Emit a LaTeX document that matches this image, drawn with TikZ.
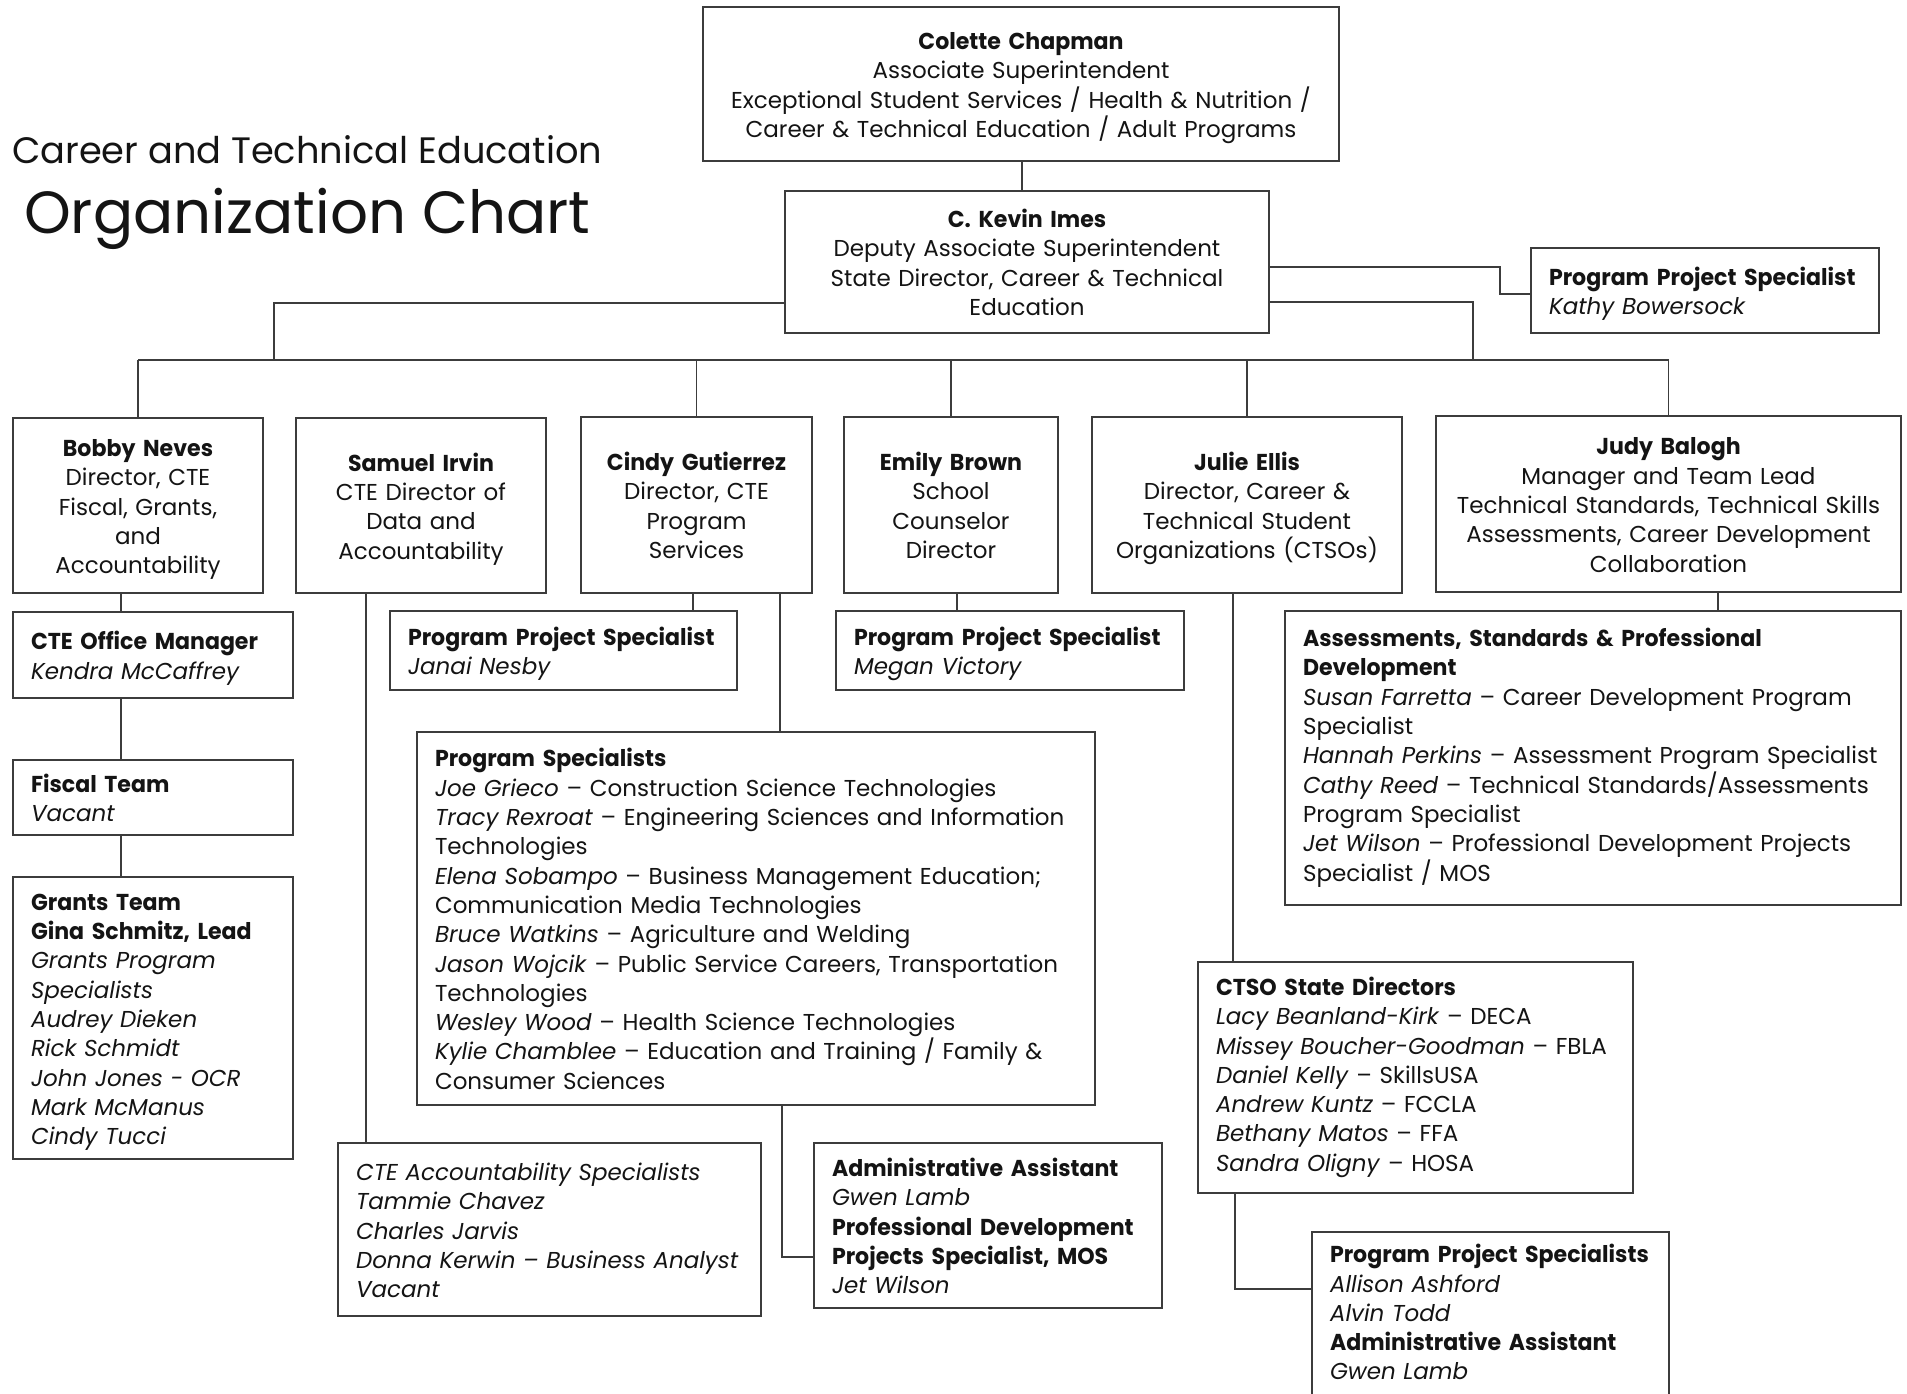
\documentclass[tikz,border=0pt]{standalone}
\usepackage{fontspec}
\setmainfont{Poppins}[BoldFeatures={FakeStretch=0.96}]
\definecolor{linec}{HTML}{3C3C3C}
\definecolor{txt}{HTML}{141414}
\newcommand\bodyfont{\fontsize{23}{29.3}\selectfont\lineskiplimit=-100pt\lineskip=0pt}
\newcommand\Ln[1]{\mbox{\strut #1}}
\newcommand\Lf[1]{\mbox{\rule{0pt}{27.9pt}\strut #1}}
\tikzset{
  box/.style={draw=linec, line width=1.8pt, text=txt, font=\bodyfont, inner ysep=0pt, rectangle},
  lbox/.style={box, inner xsep=18pt, align=left},
  cbox/.style={box, inner xsep=4pt, align=center},
  conn/.style={draw=linec, line width=1.5pt},
  ttl/.style={text=txt, inner sep=0pt, anchor=base west}
}
\begin{document}
\begin{tikzpicture}[x=1pt,y=-1pt]
\useasboundingbox (0,0) rectangle (1907,1393);
\fill[white] (0,0) rectangle (1907,1393);
\clip (0,0) rectangle (1907,1393);

% titles
\node[ttl] (t1) at (12,163) {\resizebox{590pt}{!}{\fontsize{40}{48}\selectfont Career and Technical Education}};
\node[ttl] (t2) at (24,233) {\resizebox{566pt}{!}{\fontsize{60}{72}\selectfont Organization Chart}};

% top
\node[cbox, minimum width=636pt, minimum height=154pt, text width=628pt] (colette) at (1021,84)
 {\Lf{\textbf{Colette Chapman}}\\\Ln{Associate Superintendent}\\\Ln{Exceptional Student Services / Health \& Nutrition /}\\\Ln{Career \& Technical Education / Adult Programs}};
\node[cbox, minimum width=484pt, minimum height=142pt, text width=476pt] (kevin) at (1027,262)
 {\Lf{\textbf{C. Kevin Imes}}\\\Ln{Deputy Associate Superintendent}\\\Ln{State Director, Career \& Technical}\\\Ln{Education}};
\node[lbox, minimum width=348pt, minimum height=85pt, text width=312pt] (kathy) at (1705,290.5)
 {\Lf{\textbf{Program Project Specialist}}\\\Ln{\textit{Kathy Bowersock}}};

% directors
\node[cbox, minimum width=250pt, minimum height=175pt, text width=242pt] (bobby) at (138,505.5)
 {\Lf{\textbf{Bobby Neves}}\\\Ln{Director, CTE}\\\Ln{Fiscal, Grants,}\\\Ln{and}\\\Ln{Accountability}};
\node[cbox, minimum width=250pt, minimum height=175pt, text width=242pt] (samuel) at (421,505.5)
 {\Lf{\textbf{Samuel Irvin}}\\\Ln{CTE Director of}\\\Ln{Data and}\\\Ln{Accountability}};
\node[cbox, minimum width=231pt, minimum height=176pt, text width=223pt] (cindy) at (696.5,505)
 {\Lf{\textbf{Cindy Gutierrez}}\\\Ln{Director, CTE}\\\Ln{Program}\\\Ln{Services}};
\node[cbox, minimum width=214pt, minimum height=176pt, text width=206pt] (emily) at (951,505)
 {\Lf{\textbf{Emily Brown}}\\\Ln{School}\\\Ln{Counselor}\\\Ln{Director}};
\node[cbox, minimum width=310pt, minimum height=176pt, text width=302pt] (julie) at (1247,505)
 {\Lf{\textbf{Julie Ellis}}\\\Ln{Director, Career \&}\\\Ln{Technical Student}\\\Ln{Organizations (CTSOs)}};
\node[cbox, minimum width=465pt, minimum height=176pt, text width=457pt] (judy) at (1668.5,504)
 {\Lf{\textbf{Judy Balogh}}\\\Ln{Manager and Team Lead}\\\Ln{Technical Standards, Technical Skills}\\\Ln{Assessments, Career Development}\\\Ln{Collaboration}};

% left column
\node[lbox, minimum width=280pt, minimum height=86pt, text width=244pt] (office) at (153,655)
 {\Lf{\textbf{CTE Office Manager}}\\\Ln{\textit{Kendra McCaffrey}}};
\node[lbox, minimum width=280pt, minimum height=75pt, text width=244pt] (fiscal) at (153,797.5)
 {\Lf{\textbf{Fiscal Team}}\\\Ln{\textit{Vacant}}};
\node[lbox, minimum width=280pt, minimum height=282pt, text width=244pt] (grants) at (153,1018)
 {\Lf{\textbf{Grants Team}}\\\Ln{\textbf{Gina Schmitz, Lead}}\\\Ln{\textit{Grants Program}}\\\Ln{\textit{Specialists}}\\\Ln{\textit{Audrey Dieken}}\\\Ln{\textit{Rick Schmidt}}\\\Ln{\textit{John Jones - OCR}}\\\Ln{\textit{Mark McManus}}\\\Ln{\textit{Cindy Tucci}}};

% second row
\node[lbox, minimum width=347pt, minimum height=79pt, text width=311pt] (janai) at (563.5,650.5)
 {\Lf{\textbf{Program Project Specialist}}\\\Ln{\textit{Janai Nesby}}};
\node[lbox, minimum width=348pt, minimum height=79pt, text width=312pt] (megan) at (1010,650.5)
 {\Lf{\textbf{Program Project Specialist}}\\\Ln{\textit{Megan Victory}}};
\node[lbox, minimum width=678pt, minimum height=373pt, text width=642pt] (progspec) at (756,918.5)
 {\Lf{\textbf{Program Specialists}}\\
  \Ln{\textit{Joe Grieco} – Construction Science Technologies}\\
  \Ln{\textit{Tracy Rexroat} – Engineering Sciences and Information}\\
  \Ln{Technologies}\\
  \Ln{\textit{Elena Sobampo} – Business Management Education;}\\
  \Ln{Communication Media Technologies}\\
  \Ln{\textit{Bruce Watkins} – Agriculture and Welding}\\
  \Ln{\textit{Jason Wojcik} – Public Service Careers, Transportation}\\
  \Ln{Technologies}\\
  \Ln{\textit{Wesley Wood} – Health Science Technologies}\\
  \Ln{\textit{Kylie Chamblee} – Education and Training / Family \&}\\
  \Ln{Consumer Sciences}};
\node[lbox, minimum width=348pt, minimum height=165pt, text width=312pt] (admin) at (988,1225.5)
 {\Lf{\textbf{Administrative Assistant}}\\\Ln{\textit{Gwen Lamb}}\\\Ln{\textbf{Professional Development}}\\\Ln{\textbf{Projects Specialist, MOS}}\\\Ln{\textit{Jet Wilson}}};
\node[lbox, minimum width=423pt, minimum height=173pt, text width=387pt] (cteacc) at (549.5,1229.5)
 {\Lf{\textit{CTE Accountability Specialists}}\\\Ln{\textit{Tammie Chavez}}\\\Ln{\textit{Charles Jarvis}}\\\Ln{\textit{Donna Kerwin – Business Analyst}}\\\Ln{\textit{Vacant}}};
\node[lbox, minimum width=616pt, minimum height=294pt, text width=580pt] (assess) at (1593,758)
 {\Ln{\textbf{Assessments, Standards \& Professional}}\\
  \Ln{\textbf{Development}}\\
  \Ln{\textit{Susan Farretta} – Career Development Program}\\
  \Ln{Specialist}\\
  \Ln{\textit{Hannah Perkins} – Assessment Program Specialist}\\
  \Ln{\textit{Cathy Reed} – Technical Standards/Assessments}\\
  \Ln{Program Specialist}\\
  \Ln{\textit{Jet Wilson} – Professional Development Projects}\\
  \Ln{Specialist / MOS}};
\node[lbox, minimum width=435pt, minimum height=231pt, text width=399pt] (ctso) at (1415.5,1077.5)
 {\Ln{\textbf{CTSO State Directors}}\\
  \Ln{\textit{Lacy Beanland-Kirk} – DECA}\\
  \Ln{\textit{Missey Boucher-Goodman} – FBLA}\\
  \Ln{\textit{Daniel Kelly} – SkillsUSA}\\
  \Ln{\textit{Andrew Kuntz} – FCCLA}\\
  \Ln{\textit{Bethany Matos} – FFA}\\
  \Ln{\textit{Sandra Oligny} – HOSA}};
\node[lbox, minimum width=357pt, minimum height=167pt, text width=321pt] (ppsbot) at (1490.5,1315.5)
 {\Ln{\textbf{Program Project Specialists}}\\\Ln{\textit{Allison Ashford}}\\\Ln{\textit{Alvin Todd}}\\\Ln{\textbf{Administrative Assistant}}\\\Ln{\textit{Gwen Lamb}}};

% connectors
\draw[conn] (colette.south -| 1022,0) -- (kevin.north -| 1022,0);
\coordinate (kk1) at (1500,267);
\coordinate (kk2) at (1500,294);
\draw[conn] (kevin.east |- kk1) -- (kk1) -- (kk2) -- (kathy.west |- kk2);
\coordinate (busL) at (bobby.north |- 0,360);
\coordinate (busR) at (judy.north |- 0,360);
\draw[conn] (busL) -- (busR);
\coordinate (kl1) at (274,303);
\draw[conn] (kevin.west |- kl1) -- (kl1) -- (kl1 |- busL);
\coordinate (kr1) at (1473,302);
\draw[conn] (kevin.east |- kr1) -- (kr1) -- (kr1 |- busL);
\draw[conn] (busL) -- (bobby.north);
\draw[conn] (cindy.north |- busL) -- (cindy.north);
\draw[conn] (emily.north |- busL) -- (emily.north);
\draw[conn] (julie.north |- busL) -- (julie.north);
\draw[conn] (busR) -- (judy.north);

\draw[conn] (bobby.south -| 121,0) -- (office.north -| 121,0);
\draw[conn] (office.south -| 121,0) -- (fiscal.north -| 121,0);
\draw[conn] (fiscal.south -| 121,0) -- (grants.north -| 121,0);
\draw[conn] (samuel.south -| 366,0) -- (cteacc.north -| 366,0);
\draw[conn] (cindy.south -| 693,0) -- (janai.north -| 693,0);
\draw[conn] (cindy.south -| 780,0) -- (progspec.north -| 780,0);
\draw[conn] (emily.south -| 957,0) -- (megan.north -| 957,0);
\coordinate (pa1) at (782,1257);
\draw[conn] (progspec.south -| pa1) -- (pa1) -- (admin.west |- pa1);
\draw[conn] (julie.south -| 1233,0) -- (ctso.north -| 1233,0);
\coordinate (cp1) at (1235,1289);
\draw[conn] (ctso.south -| cp1) -- (cp1) -- (ppsbot.west |- cp1);
\draw[conn] (judy.south -| 1718,0) -- (assess.north -| 1718,0);
\end{tikzpicture}
\end{document}
